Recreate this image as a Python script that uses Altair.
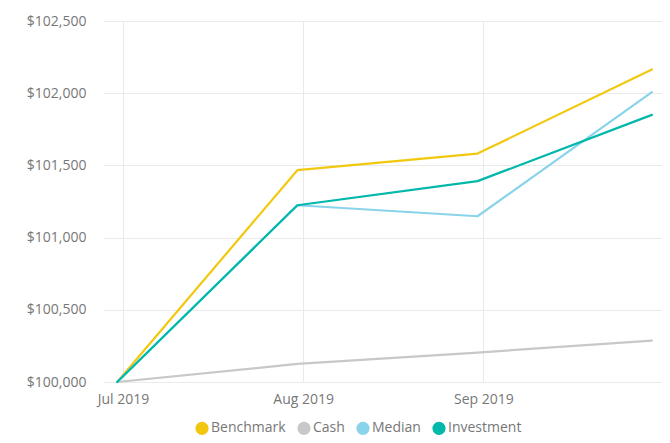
import altair as alt
import pandas as pd

dates = ["2019-06-30", "2019-07-31", "2019-08-31", "2019-09-30"]
benchmark = [100000, 101467, 101582, 102164]
cash = [100000, 100125, 100204, 100287]
median = [100000, 101224, 101148, 102007]
investment = [100000, 101224, 101391, 101850]

series = ["Benchmark", "Cash", "Median", "Investment"]
colors = ["#F2C80F", "#C8C8C8", "#8AD4EB", "#01B8AA"]
values = {"Benchmark": benchmark, "Cash": cash, "Median": median, "Investment": investment}

rows = []
for s in series:
    for d, v in zip(dates, values[s]):
        rows.append({"date": d, "value": v, "series": s, "order": series.index(s)})
df = pd.DataFrame(rows)

FONT = "Open Sans"
GRAY = "#777777"

chart = alt.Chart(df).mark_line(strokeWidth=2.2, strokeCap="round", strokeJoin="round").encode(
    x=alt.X(
        "date:T",
        title=None,
        scale=alt.Scale(
            type="utc",
            domain=[
                alt.DateTime(year=2019, month=6, date=27, hours=13, minutes=20, utc=True),
                alt.DateTime(year=2019, month=10, date=1, hours=17, minutes=50, utc=True),
            ],
        ),
        axis=alt.Axis(
            values=[
                alt.DateTime(year=2019, month=7, date=1, utc=True),
                alt.DateTime(year=2019, month=8, date=1, utc=True),
                alt.DateTime(year=2019, month=9, date=1, utc=True),
            ],
            format="%b %Y",
            ticks=False,
            domain=False,
            grid=True,
            gridColor="#EAEAEA",
            labelPadding=10,
        ),
    ),
    y=alt.Y(
        "value:Q",
        title=None,
        scale=alt.Scale(domain=[100000, 102500], nice=False, zero=False),
        axis=alt.Axis(
            values=[100000, 100500, 101000, 101500, 102000, 102500],
            format="$,.0f",
            ticks=False,
            domain=False,
            gridColor="#EAEAEA",
            labelPadding=17,
        ),
    ),
    color=alt.Color(
        "series:N",
        scale=alt.Scale(domain=series, range=colors),
        legend=alt.Legend(
            title=None,
            orient="none",
            direction="horizontal",
            legendX=92,
            legendY=400,
            symbolType="circle",
            symbolSize=45,
            symbolStrokeWidth=6.5,
            symbolOpacity=1,
            columnPadding=1,
            labelOffset=2,
            labelFontSize=14,
            labelFont=FONT,
            labelColor=GRAY,
        ),
    ),
    order=alt.Order("order:Q"),
).properties(
    width=559,
    height=361,
    padding={"left": 95, "top": 13, "right": 0, "bottom": 53},
    autosize=alt.AutoSizeParams(type="none"),
).configure_view(
    stroke=None
).configure_axis(
    labelFont=FONT,
    labelFontSize=14,
    labelColor=GRAY,
)

chart.save("out.html", embed_options={"renderer": "svg", "actions": False})
